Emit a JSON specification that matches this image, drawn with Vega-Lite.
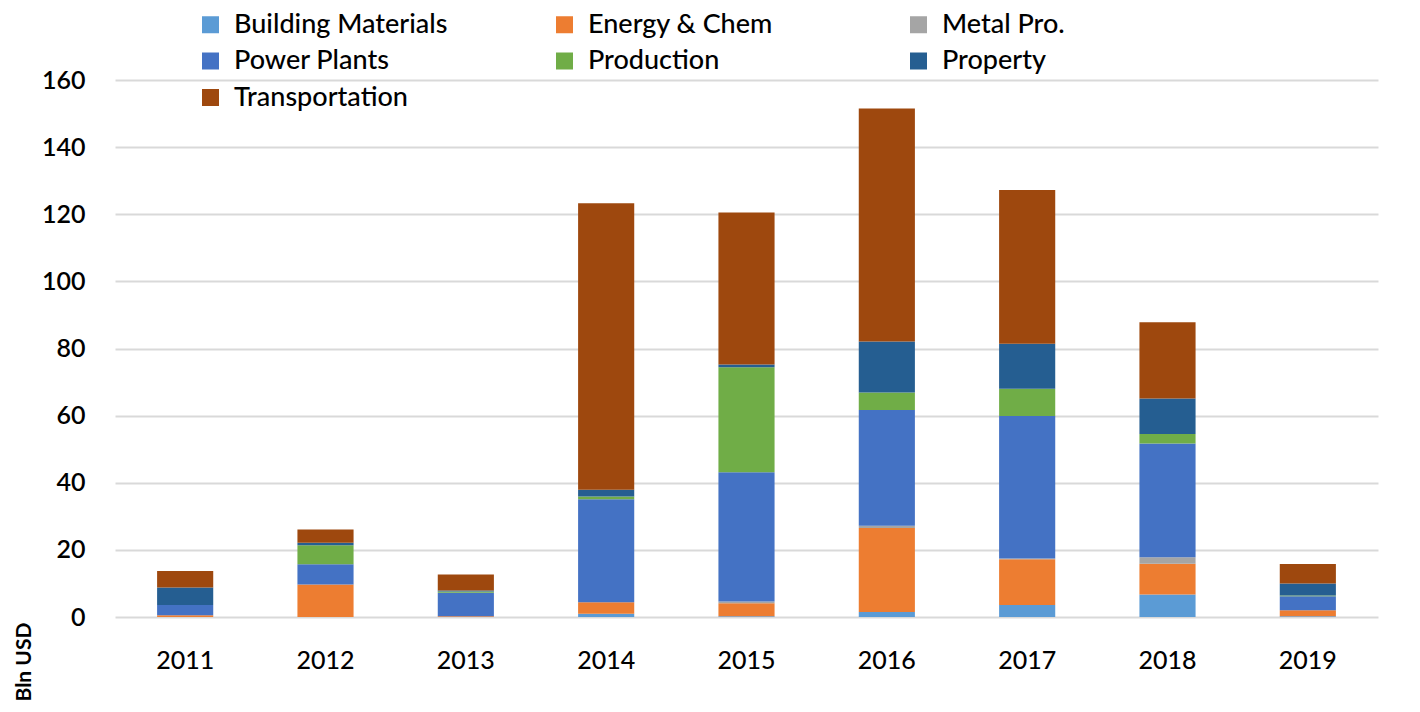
{
  "$schema": "https://vega.github.io/schema/vega-lite/v6.json",
  "width": 1263,
  "height": 537,
  "autosize": {"type": "none"},
  "padding": {"left": 115, "top": 80, "right": 42, "bottom": 95},
  "background": "white",
  "config": {
    "view": {"stroke": null},
    "font": "Lato"
  },
  "data": {
    "values": [
      {"year": "2011", "sector": "Energy & Chem", "value": 0.5},
      {"year": "2011", "sector": "Power Plants", "value": 3.1},
      {"year": "2011", "sector": "Property", "value": 5.2},
      {"year": "2011", "sector": "Transportation", "value": 4.9},
      {"year": "2012", "sector": "Energy & Chem", "value": 9.7},
      {"year": "2012", "sector": "Power Plants", "value": 6.0},
      {"year": "2012", "sector": "Production", "value": 5.7},
      {"year": "2012", "sector": "Property", "value": 0.7},
      {"year": "2012", "sector": "Transportation", "value": 4.0},
      {"year": "2013", "sector": "Energy & Chem", "value": 0.2},
      {"year": "2013", "sector": "Power Plants", "value": 7.0},
      {"year": "2013", "sector": "Production", "value": 0.4},
      {"year": "2013", "sector": "Property", "value": 0.3},
      {"year": "2013", "sector": "Transportation", "value": 4.8},
      {"year": "2014", "sector": "Building Materials", "value": 1.0},
      {"year": "2014", "sector": "Energy & Chem", "value": 3.4},
      {"year": "2014", "sector": "Power Plants", "value": 30.7},
      {"year": "2014", "sector": "Production", "value": 0.8},
      {"year": "2014", "sector": "Property", "value": 2.0},
      {"year": "2014", "sector": "Transportation", "value": 85.4},
      {"year": "2015", "sector": "Building Materials", "value": 0.2},
      {"year": "2015", "sector": "Energy & Chem", "value": 3.9},
      {"year": "2015", "sector": "Metal Pro.", "value": 0.5},
      {"year": "2015", "sector": "Power Plants", "value": 38.5},
      {"year": "2015", "sector": "Production", "value": 31.3},
      {"year": "2015", "sector": "Property", "value": 0.8},
      {"year": "2015", "sector": "Transportation", "value": 45.3},
      {"year": "2016", "sector": "Building Materials", "value": 1.5},
      {"year": "2016", "sector": "Energy & Chem", "value": 25.0},
      {"year": "2016", "sector": "Metal Pro.", "value": 0.7},
      {"year": "2016", "sector": "Power Plants", "value": 34.5},
      {"year": "2016", "sector": "Production", "value": 5.2},
      {"year": "2016", "sector": "Property", "value": 15.2},
      {"year": "2016", "sector": "Transportation", "value": 69.4},
      {"year": "2017", "sector": "Building Materials", "value": 3.6},
      {"year": "2017", "sector": "Energy & Chem", "value": 13.6},
      {"year": "2017", "sector": "Metal Pro.", "value": 0.2},
      {"year": "2017", "sector": "Power Plants", "value": 42.5},
      {"year": "2017", "sector": "Production", "value": 8.1},
      {"year": "2017", "sector": "Property", "value": 13.4},
      {"year": "2017", "sector": "Transportation", "value": 45.8},
      {"year": "2018", "sector": "Building Materials", "value": 6.7},
      {"year": "2018", "sector": "Energy & Chem", "value": 9.2},
      {"year": "2018", "sector": "Metal Pro.", "value": 1.9},
      {"year": "2018", "sector": "Power Plants", "value": 33.9},
      {"year": "2018", "sector": "Production", "value": 2.8},
      {"year": "2018", "sector": "Property", "value": 10.6},
      {"year": "2018", "sector": "Transportation", "value": 22.7},
      {"year": "2019", "sector": "Building Materials", "value": 0.2},
      {"year": "2019", "sector": "Energy & Chem", "value": 1.8},
      {"year": "2019", "sector": "Power Plants", "value": 4.2},
      {"year": "2019", "sector": "Production", "value": 0.2},
      {"year": "2019", "sector": "Property", "value": 3.6},
      {"year": "2019", "sector": "Transportation", "value": 5.8}
    ]
  },
  "mark": {"type": "bar"},
  "encoding": {
    "x": {
      "field": "year",
      "type": "ordinal",
      "scale": {"paddingInner": 0.6, "paddingOuter": 0.3},
      "axis": {
        "title": null,
        "labelAngle": 0,
        "labelFontSize": 25,
        "labelFontWeight": 500,
        "labelColor": "#000000",
        "labelPadding": 31,
        "ticks": false,
        "domain": false
      }
    },
    "y": {
      "field": "value",
      "type": "quantitative",
      "stack": "zero",
      "scale": {"domain": [0, 160], "nice": false},
      "axis": {
        "values": [0, 20, 40, 60, 80, 100, 120, 140, 160],
        "title": "Bln USD",
        "titleFontSize": 21,
        "titleFontWeight": "bold",
        "titleColor": "#000000",
        "titleAngle": -90,
        "titleAlign": "left",
        "titleBaseline": "top",
        "titleX": -102,
        "titleY": 621,
        "labelFontSize": 25,
        "labelFontWeight": 600,
        "labelColor": "#000000",
        "labelPadding": 30,
        "ticks": false,
        "domain": false,
        "gridColor": "#d9d9d9",
        "gridWidth": 2
      }
    },
    "color": {
      "field": "sector",
      "type": "nominal",
      "scale": {
        "domain": ["Building Materials", "Energy & Chem", "Metal Pro.", "Power Plants", "Production", "Property", "Transportation"],
        "range": ["#5B9BD5", "#ED7D31", "#A5A5A5", "#4472C4", "#70AD47", "#255E91", "#9E480E"]
      },
      "legend": {
        "title": null,
        "orient": "none",
        "legendX": 82,
        "legendY": -69,
        "direction": "horizontal",
        "columns": 3,
        "gridAlign": "all",
        "columnPadding": 103,
        "rowPadding": 8.5,
        "symbolType": "square",
        "symbolSize": 289,
        "symbolStrokeWidth": 0,
        "labelFontSize": 27,
        "labelFontWeight": 500,
        "labelColor": "#000000",
        "labelOffset": 10,
        "labelLimit": 400
      }
    },
    "order": {"field": "sector", "sort": "ascending"}
  }
}
